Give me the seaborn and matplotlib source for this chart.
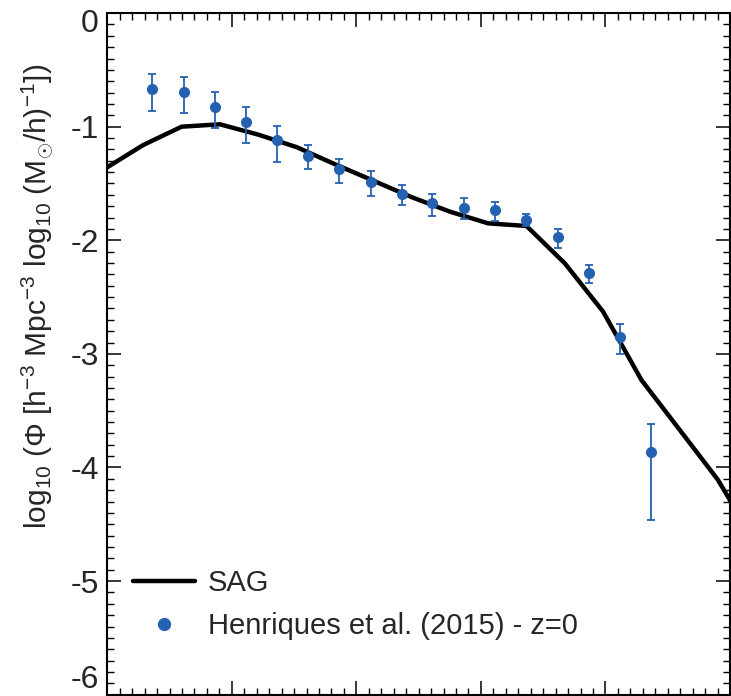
import numpy as np
import pandas as pd
import matplotlib
matplotlib.use("Agg")
import matplotlib.pyplot as plt
from matplotlib.lines import Line2D
from matplotlib.ticker import MultipleLocator
from matplotlib.transforms import ScaledTranslation
import seaborn as sns

# SAG model stellar mass function
sag_x = [7.981, 8.289, 8.597, 8.904, 9.212, 9.520, 9.827, 10.135, 10.443,
         10.751, 11.058, 11.366, 11.674, 11.981, 12.289, 12.597, 12.904, 13.212]
sag_y = [-1.37, -1.161, -1.000, -0.979, -1.07, -1.18, -1.33, -1.475, -1.62,
         -1.748, -1.851, -1.874, -2.203, -2.628, -3.23, -3.67, -4.11, -4.68]

# Henriques et al. (2015) z=0 observational compilation
obs_x = [8.361, 8.616, 8.864, 9.111, 9.364, 9.613, 9.862, 10.116, 10.363,
         10.61, 10.865, 11.112, 11.366, 11.62, 11.869, 12.115, 12.364]
obs_y = [-0.668, -0.695, -0.827, -0.956, -1.120, -1.255, -1.375, -1.484, -1.592,
         -1.673, -1.713, -1.733, -1.821, -1.971, -2.291, -2.849, -3.861]
obs_hi = [-0.539, -0.562, -0.695, -0.824, -0.991, -1.161, -1.284, -1.387, -1.513,
          -1.590, -1.630, -1.660, -1.771, -1.898, -2.215, -2.737, -3.617]
obs_lo = [-0.859, -0.882, -1.011, -1.141, -1.308, -1.375, -1.498, -1.610, -1.692,
          -1.783, -1.815, -1.827, -1.874, -2.065, -2.379, -3.001, -4.462]

ytick_vals = [0, -1, -2, -3, -4, -5, -6]
ytick_labels = ["0", "-1", "-2", "-3", "-4", "-5", "-6"]

sns.set_theme(style="white")
plt.rcParams['font.family'] = ['Liberation Sans', 'DejaVu Sans']
plt.rcParams['mathtext.fontset'] = 'custom'
plt.rcParams['mathtext.rm'] = 'Liberation Sans'
plt.rcParams['mathtext.it'] = 'Liberation Sans:italic'
plt.rcParams['mathtext.bf'] = 'Liberation Sans:bold'

blue = "#2461b0"

fig = plt.figure(figsize=(7.31, 6.96), dpi=100)
ax = fig.add_axes([0.1468, 0.0019, 0.8518, 0.9793])

sag = pd.DataFrame({"x": sag_x, "y": sag_y})
obs = pd.DataFrame({"x": obs_x, "y": obs_y, "hi": obs_hi, "lo": obs_lo})

sns.lineplot(data=sag, x="x", y="y", ax=ax, color="black", lw=3.2, sort=False)
ax.errorbar(obs["x"], obs["y"],
            yerr=[obs["y"] - obs["lo"], obs["hi"] - obs["y"]],
            fmt="none", ecolor=blue, elinewidth=1.3, capsize=2.6, capthick=1.3)
sns.scatterplot(data=obs, x="x", y="y", ax=ax, color=blue, s=64,
                edgecolor=blue, linewidth=0, zorder=5)

ax.set_xlim(8, 13)
ax.set_ylim(-6, 0)
ax.set_xlabel("")
ax.set_ylabel(r'log$_{10}$ ($\Phi$ [h$^{-3}$ Mpc$^{-3}$ log$_{10}$ (M$_{\odot}$/h)$^{-1}$])',
              fontsize=21.5)
ax.yaxis.set_label_coords(-0.084, 0.585)

ax.xaxis.set_major_locator(MultipleLocator(1))
ax.xaxis.set_minor_locator(MultipleLocator(0.1))
ax.yaxis.set_minor_locator(MultipleLocator(0.1))
ax.tick_params(which='both', direction='in', top=True, right=True,
               bottom=True, left=True, color='black')
ax.tick_params(which='major', length=10, width=1.1, labelsize=23, pad=6)
ax.tick_params(which='minor', length=5, width=1.0)
ax.tick_params(axis='x', labelbottom=False)
ax.set_yticks(ytick_vals)
ax.set_yticklabels(ytick_labels)
for sp in ax.spines.values():
    sp.set_color('black')
    sp.set_linewidth(1.5)

# keep end labels inside the picture, as in the reference
labs = ax.get_yticklabels()
labs[0].set_transform(labs[0].get_transform() +
                      ScaledTranslation(0, -5 / 72, fig.dpi_scale_trans))
labs[-1].set_va('bottom')

handles = [Line2D([0], [0], color='black', lw=3.2),
           Line2D([0], [0], marker='o', color=blue, lw=0, markersize=8.5)]
ax.legend(handles, ["SAG", "Henriques et al. (2015) - z=0"],
          loc='center left', bbox_to_anchor=(0.0413, 0.132), frameon=False,
          fontsize=21, handlelength=2.12, handletextpad=0.45, labelspacing=0.5,
          borderpad=0, borderaxespad=0)

fig.savefig("out.png", dpi=100)
